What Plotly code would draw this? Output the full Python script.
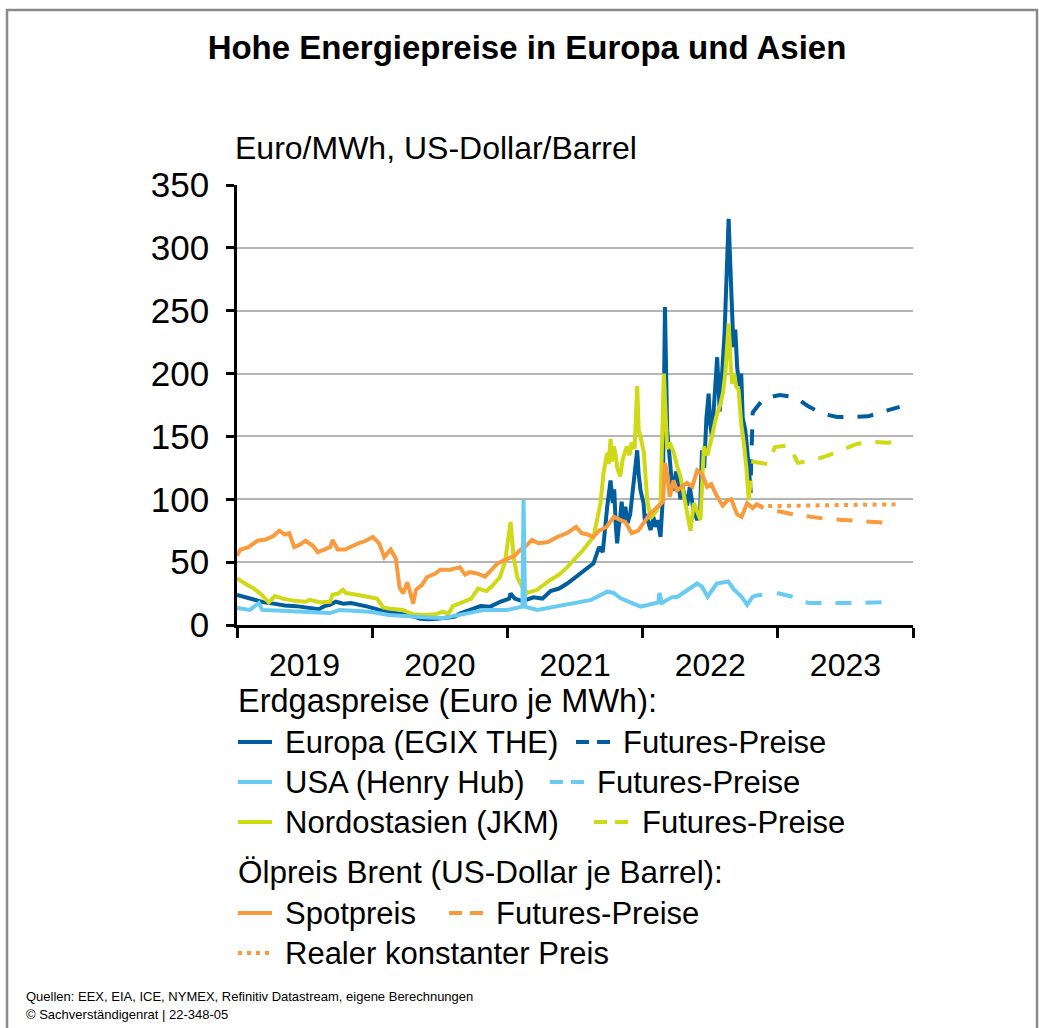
import plotly.graph_objects as go

# ---------------------------------------------------------------- data
# Erdgaspreise Europa (EGIX THE), Euro je MWh
eu_dates = ["2019-01-01","2019-01-20","2019-02-15","2019-03-15","2019-04-10","2019-05-10","2019-06-10",
            "2019-07-10","2019-08-10","2019-08-25","2019-09-09","2019-09-25","2019-10-15","2019-11-05",
            "2019-11-25","2019-12-20","2020-01-20","2020-02-20","2020-03-20","2020-04-20","2020-05-10",
            "2020-05-30","2020-06-25","2020-07-20","2020-08-10","2020-08-25","2020-09-22","2020-10-20",
            "2020-11-15","2020-12-12","2021-01-05","2021-01-09","2021-01-20","2021-02-10","2021-03-12",
            "2021-04-05","2021-04-27","2021-05-20","2021-06-11","2021-07-17","2021-08-21","2021-09-05",
            "2021-09-15","2021-09-27","2021-10-06","2021-10-12","2021-10-16","2021-10-20","2021-10-24",
            "2021-10-28","2021-11-01","2021-11-05","2021-11-10","2021-11-15","2021-11-21","2021-11-28",
            "2021-12-03","2021-12-07","2021-12-13","2021-12-17","2021-12-21","2021-12-26","2022-01-03",
            "2022-01-07","2022-01-10","2022-01-16","2022-01-22","2022-01-30","2022-02-04","2022-02-10",
            "2022-02-18","2022-02-24","2022-02-26","2022-03-02","2022-03-08","2022-03-12","2022-03-17",
            "2022-03-21","2022-03-25","2022-04-01","2022-04-05","2022-04-13","2022-04-18","2022-04-22",
            "2022-05-01","2022-05-08","2022-05-13","2022-05-18","2022-05-23","2022-05-28","2022-06-05",
            "2022-06-10","2022-06-16","2022-06-22","2022-06-28","2022-07-02","2022-07-07","2022-07-14",
            "2022-07-21","2022-07-28","2022-08-04","2022-08-10","2022-08-16","2022-08-21","2022-08-25",
            "2022-08-30","2022-09-03","2022-09-08","2022-09-13","2022-09-19","2022-09-24","2022-09-28",
            "2022-10-05","2022-10-10","2022-10-16","2022-10-20"]
eu_values = [24, 22.5, 20.5, 18, 17, 15.5, 15, 13.5, 12.5, 15, 16, 18.5, 17, 17.5, 16.5, 14.6,
             12, 10.5, 9, 7, 5, 4.5, 5, 6, 6.5, 9, 12, 15, 14.6, 18.5, 21, 25, 21, 19, 22,
             21, 27, 29, 33, 41, 49, 62, 58, 94, 115, 97, 108, 80, 65, 78, 85, 98, 82, 94, 81, 88,
             100, 115, 130, 139, 120, 107, 97, 82, 88, 80, 75.6, 86, 78, 83.5, 70, 100, 150, 253,
             155, 140, 129, 112, 107, 122, 118, 100, 110, 105, 95, 110, 98, 91.5, 88, 83.5, 90,
             139, 125, 165, 184, 160, 150, 180, 213, 170, 200, 232, 282, 323, 290, 253, 221, 235,
             205, 190, 200, 165, 155, 140, 118, 105]

# Erdgaspreise USA (Henry Hub), Euro je MWh
hh_dates = ["2019-01-01","2019-01-20","2019-02-05","2019-03-01","2019-03-10","2019-04-15","2019-06-10",
            "2019-08-01","2019-09-09","2019-10-06","2019-11-15","2019-12-26","2020-02-15","2020-04-15",
            "2020-06-01","2020-07-10","2020-08-25","2020-10-05","2020-11-01","2020-12-31","2021-02-10",
            "2021-02-13","2021-02-17","2021-03-22","2021-05-15","2021-07-01","2021-08-15","2021-09-27",
            "2021-10-15","2021-11-01","2021-12-01","2021-12-26","2022-02-12","2022-02-15","2022-02-22",
            "2022-03-20","2022-04-05","2022-05-01","2022-05-28","2022-06-10","2022-06-25","2022-07-20",
            "2022-08-20","2022-09-05","2022-09-25","2022-10-10","2022-10-25","2022-11-05","2022-11-20"]
hh_values = [13.5, 13, 12, 17.5, 12, 11.5, 10.6, 10.5, 9.5, 12, 11, 10.6, 8, 6.6, 6, 5.5, 8, 10,
             12, 12, 14.6, 99.5, 14.6, 12, 15, 17.5, 20, 26.5, 25.5, 21.5, 17.5, 14.6, 18, 25.5,
             17.5, 22, 22.5, 28, 33, 30.5, 22.5, 33, 34.6, 28, 22.5, 16, 22.5, 23.5, 24]

# Erdgaspreise Nordostasien (JKM), Euro je MWh
jkm_dates = ["2019-01-01","2019-01-15","2019-01-28","2019-02-15","2019-03-05","2019-03-28","2019-04-13",
             "2019-05-05","2019-06-10","2019-07-05","2019-07-16","2019-08-15","2019-09-09","2019-09-16",
             "2019-10-01","2019-10-14","2019-10-22","2019-11-20","2019-12-20","2020-01-14","2020-01-31",
             "2020-02-18","2020-03-24","2020-04-20","2020-05-20","2020-06-20","2020-07-10","2020-07-25",
             "2020-08-06","2020-08-25","2020-09-25","2020-10-13","2020-11-05","2020-11-20","2020-12-11",
             "2020-12-25","2021-01-01","2021-01-09","2021-01-14","2021-01-17","2021-01-27","2021-02-10",
             "2021-02-23","2021-03-22","2021-04-27","2021-05-20","2021-06-11","2021-07-25","2021-08-21",
             "2021-09-09","2021-09-17","2021-09-27","2021-10-01","2021-10-06","2021-10-10","2021-10-15",
             "2021-10-20","2021-10-24","2021-11-01","2021-11-08","2021-11-19","2021-11-26","2021-12-02",
             "2021-12-10","2021-12-17","2021-12-21","2021-12-26","2022-01-04","2022-01-13","2022-01-22",
             "2022-02-05","2022-02-18","2022-02-27","2022-03-03","2022-03-08","2022-03-15","2022-03-26",
             "2022-04-05","2022-04-13","2022-04-26","2022-05-10","2022-05-19","2022-05-28","2022-06-06",
             "2022-06-15","2022-06-25","2022-07-07","2022-07-18","2022-07-30","2022-08-06","2022-08-12",
             "2022-08-21","2022-08-26","2022-08-30","2022-09-05","2022-09-10","2022-09-17","2022-09-24",
             "2022-10-01","2022-10-08","2022-10-14","2022-10-20"]
jkm_values = [37, 34, 32, 29, 25, 18, 23, 21, 19, 18.5, 20, 18, 18.5, 24, 25, 28, 25.5, 24, 22,
              21, 14, 13, 12, 8.5, 8, 8.5, 10.6, 9, 15, 17.5, 21, 29, 27, 31, 38, 50, 65, 82, 65,
              54, 38, 30, 25.5, 28, 36, 40, 46, 60, 70, 97, 121, 137, 128, 148, 130, 142, 135, 125,
              118, 132, 142, 135, 145, 140, 190, 155, 150, 137, 100, 85, 90, 97, 200, 165, 140, 145,
              137, 125, 118, 97, 75, 97, 90, 83.5, 142, 135, 150, 165, 176, 185, 200, 240, 210, 192,
              200, 190, 187, 160, 145, 125, 100, 115]

# Ölpreis Brent, Spotpreis, US-Dollar je Barrel
brent_dates = ["2019-01-01","2019-01-10","2019-02-01","2019-02-25","2019-03-20","2019-04-10","2019-04-25",
               "2019-05-10","2019-05-22","2019-06-05","2019-06-20","2019-07-05","2019-07-25","2019-08-07",
               "2019-08-25","2019-09-10","2019-09-16","2019-09-30","2019-10-20","2019-11-10","2019-11-25",
               "2019-12-15","2020-01-03","2020-01-20","2020-02-03","2020-02-20","2020-03-05","2020-03-15",
               "2020-03-25","2020-04-05","2020-04-21","2020-04-28","2020-05-15","2020-05-28","2020-06-20",
               "2020-07-03","2020-07-30","2020-08-25","2020-09-08","2020-09-20","2020-10-10","2020-11-01",
               "2020-11-20","2020-12-05","2021-01-03","2021-01-20","2021-02-05","2021-02-20","2021-03-08",
               "2021-03-25","2021-04-20","2021-05-15","2021-06-10","2021-07-05","2021-07-20","2021-08-05",
               "2021-08-20","2021-09-05","2021-09-25","2021-10-15","2021-11-05","2021-11-15","2021-12-02",
               "2021-12-20","2022-01-03","2022-01-20","2022-02-10","2022-02-25","2022-03-02","2022-03-08",
               "2022-03-15","2022-03-25","2022-04-03","2022-04-15","2022-04-30","2022-05-15","2022-05-28",
               "2022-06-10","2022-06-24","2022-07-05","2022-07-21","2022-08-05","2022-08-17","2022-08-28",
               "2022-09-13","2022-09-25","2022-10-10","2022-10-25","2022-11-05","2022-11-23"]
brent_values = [55, 60, 62, 67, 68, 71, 75, 72, 73, 62, 64, 67, 63, 58, 60, 62, 67.6, 60, 60, 63,
                65, 67, 70, 65, 54, 60, 53, 30, 25, 34, 17, 28, 32, 38, 41, 44, 44, 46, 40, 42, 41,
                38.5, 44, 49, 53, 55, 60, 63, 67.6, 65, 66, 70, 73, 78, 73, 72, 70, 75, 78, 86, 83,
                82, 73, 75, 81, 88, 94, 98, 129, 120, 102, 115, 107, 110, 113, 110, 123, 120, 110,
                112, 102, 95, 99, 100, 88, 86, 97, 93, 96, 93]

# Futures-Preise
eu_fut_dates = ["2022-10-20","2022-10-25","2022-11-23","2023-01-06","2023-02-18","2023-03-24",
                "2023-05-02","2023-06-10","2023-07-24","2023-09-02","2023-10-15","2023-11-26"]
eu_fut_values = [119, 169, 180, 183, 181, 174, 168, 165.5, 165.5, 166, 170, 173.5]

hh_fut_dates = ["2022-12-30","2023-02-13","2023-03-25","2023-05-08","2023-08-03","2023-10-30","2023-11-10"]
hh_fut_values = [25.5, 22.3, 17.5, 17.5, 17.5, 18.3, 19]

jkm_fut_dates = ["2022-10-21","2022-12-05","2022-12-24","2023-01-31","2023-02-24","2023-03-30",
                 "2023-05-13","2023-06-20","2023-08-02","2023-09-12","2023-10-25","2023-11-26"]
jkm_fut_values = [130, 128, 141.6, 143, 129, 130.5, 134.5, 139, 144, 145.6, 145, 146]

brent_fut_dates = ["2022-12-30","2023-02-20","2023-04-01","2023-05-15","2023-06-28","2023-08-08",
                   "2023-09-18","2023-11-04","2023-11-12"]
brent_fut_values = [90.7, 87.5, 86, 84.3, 83.5, 82.7, 82, 81, 80.8]

# Realer konstanter Preis (Brent)
brent_real_dates = ["2022-11-10", "2023-03-01", "2023-07-01", "2023-11-20"]
brent_real_values = [94.5, 95, 95.5, 96]

# Achsen
y_ticks = [0, 50, 100, 150, 200, 250, 300, 350]

# ---------------------------------------------------------------- styles
C_EU = "#005e9e"
C_HH = "#69caf2"
C_JKM = "#cfd915"
C_BRENT = "#f99b3c"
FONT = "Liberation Sans, Arial, sans-serif"
LW = 4
FUT_DASH = "16px,14px"

W, H = 1039, 1028
L, R, T, B = 237, 913, 185, 625  # plot area in pixels


def fx(px):
    return (px - L) / (R - L)


def fy(py):
    return (B - py) / (B - T)


fig = go.Figure()

series = [
    (eu_dates, eu_values, C_EU, "solid"),
    (jkm_dates, jkm_values, C_JKM, "solid"),
    (brent_dates, brent_values, C_BRENT, "solid"),
    (hh_dates, hh_values, C_HH, "solid"),
    (eu_fut_dates, eu_fut_values, C_EU, FUT_DASH),
    (jkm_fut_dates, jkm_fut_values, C_JKM, FUT_DASH),
    (hh_fut_dates, hh_fut_values, C_HH, FUT_DASH),
    (brent_fut_dates, brent_fut_values, C_BRENT, FUT_DASH),
    (brent_real_dates, brent_real_values, C_BRENT, "4px,5.5px"),
]
for d, v, c, dash in series:
    fig.add_trace(go.Scatter(x=d, y=v, mode="lines",
                             line=dict(color=c, width=LW, dash=dash),
                             showlegend=False, hoverinfo="skip"))

fig.update_layout(
    width=W, height=H,
    margin=dict(l=L, r=W - R, t=T, b=H - B),
    paper_bgcolor="white", plot_bgcolor="white",
    font=dict(family=FONT, color="black", size=32),
    title=dict(text="<b>Hohe Energiepreise in Europa und Asien</b>",
               x=527 / W, xanchor="center", y=1 - 47 / H, yanchor="middle",
               font=dict(size=33, family=FONT, color="black")),
    xaxis=dict(range=["2019-01-01", "2024-01-01"], type="date",
               tick0="2019-01-01", dtick="M12", ticklabelmode="period",
               tickformat="%Y", ticks="outside", ticklen=10, tickwidth=2.5,
               tickcolor="black", showline=True, linecolor="black", linewidth=2.5,
               showgrid=False, zeroline=False, tickfont=dict(size=32)),
    yaxis=dict(range=[0, 350], tickvals=y_ticks, ticks="outside", ticklen=8,
               tickwidth=2.5, tickcolor="black", showline=True, linecolor="black",
               linewidth=2.5, showgrid=True, gridcolor="#b4b4b4", gridwidth=2,
               zeroline=False, tickfont=dict(size=35), ticklabelstandoff=10),
)

shapes = []
annotations = []

# outer frame
shapes.append(dict(type="path", xref="paper", yref="paper",
                   path=f"M {fx(7)},{fy(1040)} L {fx(7)},{fy(10)} L {fx(1037)},{fy(10)} L {fx(1037)},{fy(1040)}",
                   line=dict(color="#8a8a8a", width=2.5)))

# unit label
annotations.append(dict(text="Euro/MWh, US-Dollar/Barrel", xref="paper", yref="paper",
                        x=fx(233), y=fy(148), xanchor="left", yanchor="middle",
                        showarrow=False, font=dict(size=32)))


def legend_text(txt, x, y, size=31):
    annotations.append(dict(text=txt, xref="paper", yref="paper", x=fx(x), y=fy(y),
                            xanchor="left", yanchor="middle", showarrow=False,
                            font=dict(size=size)))


def legend_line(x0, x1, y, color, dash=None):
    shapes.append(dict(type="line", xref="paper", yref="paper",
                       x0=fx(x0), x1=fx(x1), y0=fy(y), y1=fy(y),
                       line=dict(color=color, width=LW, dash=dash or "solid")))


def legend_dashes(x0, y, color):
    legend_line(x0, x0 + 13, y, color)
    legend_line(x0 + 21, x0 + 34, y, color)


legend_text("Erdgaspreise (Euro je MWh):", 236, 701, size=32.5)
rows = [
    ("Europa (EGIX THE)", C_EU, 742, 576, 621),
    ("USA (Henry Hub)", C_HH, 782, 550, 595),
    ("Nordostasien (JKM)", C_JKM, 822, 594, 640),
]
for label, col, y, dx, tx in rows:
    legend_line(238, 272, y, col)
    legend_text(label, 283, y)
    legend_dashes(dx, y, col)
    legend_text("Futures-Preise", tx, y)

legend_text("Ölpreis Brent (US-Dollar je Barrel):", 236, 872, size=31.5)
legend_line(238, 272, 913, C_BRENT)
legend_text("Spotpreis", 283, 913)
legend_dashes(449, 913, C_BRENT)
legend_text("Futures-Preise", 494, 913)
legend_line(238, 270, 953, C_BRENT, dash="4px,5px")
legend_text("Realer konstanter Preis", 283, 953)

# sources
annotations.append(dict(text="Quellen: EEX, EIA, ICE, NYMEX, Refinitiv Datastream, eigene Berechnungen",
                        xref="paper", yref="paper", x=fx(24), y=fy(996), xanchor="left",
                        yanchor="middle", showarrow=False, font=dict(size=13)))
annotations.append(dict(text="© Sachverständigenrat | 22-348-05",
                        xref="paper", yref="paper", x=fx(24), y=fy(1014), xanchor="left",
                        yanchor="middle", showarrow=False, font=dict(size=13)))

fig.update_layout(shapes=shapes, annotations=annotations)
fig.write_html("out.html")
